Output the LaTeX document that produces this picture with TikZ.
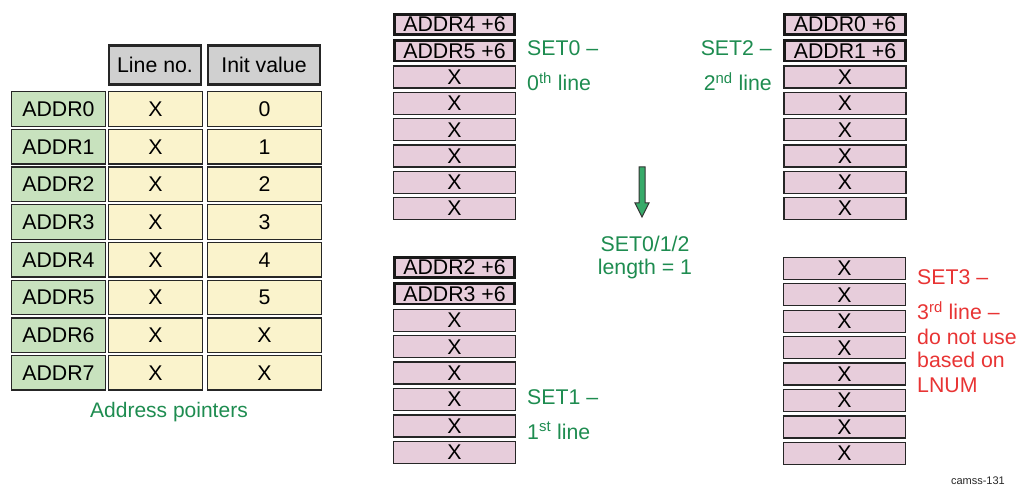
\documentclass[tikz,border=0pt]{standalone}
\usepackage{fontspec}
\setmainfont{Liberation Sans}
\usepackage{tikz}
\usepackage{xcolor}
\definecolor{addrgreen}{RGB}{200,226,190}
\definecolor{cellyellow}{RGB}{250,243,204}
\definecolor{headgrey}{RGB}{208,208,208}
\definecolor{linepink}{RGB}{231,205,219}
\definecolor{labelgreen}{RGB}{30,140,80}
\definecolor{arrowgreen}{RGB}{55,170,105}
\definecolor{warnred}{RGB}{232,52,52}
\newcommand{\bigtxt}{\fontsize{21.3}{24}\selectfont}

\begin{document}
\begin{tikzpicture}[x=1pt, y=-1pt, font=\bigtxt,
    tabcell/.style={draw=black!85, line width=1.3pt, minimum height=34.5pt, inner sep=0pt},
    headcell/.style={draw=black!85, line width=2.6pt, fill=headgrey, minimum height=39pt, inner sep=0pt},
    addrcell/.style={tabcell, fill=addrgreen, minimum width=93.5pt},
    linecell/.style={tabcell, fill=cellyellow, minimum width=93.5pt},
    initcell/.style={tabcell, fill=cellyellow, minimum width=114.5pt},
    memline/.style={draw=black!85, line width=1.2pt, fill=linepink, minimum width=122pt, minimum height=22pt, inner sep=0pt},
    memhead/.style={memline, draw=black!90, line width=2.6pt, minimum width=120.5pt, minimum height=20.5pt},
    setlabel/.style={labelgreen, inner sep=0pt, anchor=base west}]
        \useasboundingbox (0,0) rectangle (1018,486);

        % Table header
        \node[headcell, minimum width=92pt] (hline) at (155,65) {Line no.};
        \node[headcell, minimum width=112pt] (hinit) at (264,65) {Init value};
        % Address pointers
        \node[addrcell] (addr0) at (58.5,109) {ADDR0};
        \node[linecell] (line0) at (155.5,109) {X};
        \node[initcell] (init0) at (264.5,109) {0};
        \node[addrcell] (addr1) at (58.5,146.7) {ADDR1};
        \node[linecell] (line1) at (155.5,146.7) {X};
        \node[initcell] (init1) at (264.5,146.7) {1};
        \node[addrcell] (addr2) at (58.5,184.4) {ADDR2};
        \node[linecell] (line2) at (155.5,184.4) {X};
        \node[initcell] (init2) at (264.5,184.4) {2};
        \node[addrcell] (addr3) at (58.5,222.1) {ADDR3};
        \node[linecell] (line3) at (155.5,222.1) {X};
        \node[initcell] (init3) at (264.5,222.1) {3};
        \node[addrcell] (addr4) at (58.5,259.8) {ADDR4};
        \node[linecell] (line4) at (155.5,259.8) {X};
        \node[initcell] (init4) at (264.5,259.8) {4};
        \node[addrcell] (addr5) at (58.5,297.5) {ADDR5};
        \node[linecell] (line5) at (155.5,297.5) {X};
        \node[initcell] (init5) at (264.5,297.5) {5};
        \node[addrcell] (addr6) at (58.5,335.2) {ADDR6};
        \node[linecell] (line6) at (155.5,335.2) {X};
        \node[initcell] (init6) at (264.5,335.2) {X};
        \node[addrcell] (addr7) at (58.5,372.9) {ADDR7};
        \node[linecell] (line7) at (155.5,372.9) {X};
        \node[initcell] (init7) at (264.5,372.9) {X};
        \node[labelgreen, font=\fontsize{21}{24}\selectfont] (ptrlabel) at (169,412) {Address pointers};

        % SET0
        \node[memhead] (set0a) at (454.5,24.5) {ADDR4 +6};
        \node[memhead] (set0b) at (454.5,50.8) {ADDR5 +6};
        \node[memline] (set0c) at (454.5,77.1) {X};
        \node[memline] (set0d) at (454.5,103.4) {X};
        \node[memline] (set0e) at (454.5,129.7) {X};
        \node[memline] (set0f) at (454.5,156) {X};
        \node[memline] (set0g) at (454.5,182.3) {X};
        \node[memline] (set0h) at (454.5,208.6) {X};
        \node[setlabel] (set0name) at (527,56) {SET0 –};
        \node[setlabel] (set0line) at (527,91) {0\textsuperscript{th} line};

        % SET1
        \node[memhead] (set1a) at (454.5,267.5) {ADDR2 +6};
        \node[memhead] (set1b) at (454.5,293.9) {ADDR3 +6};
        \node[memline] (set1c) at (454.5,320.3) {X};
        \node[memline] (set1d) at (454.5,346.7) {X};
        \node[memline] (set1e) at (454.5,373.1) {X};
        \node[memline] (set1f) at (454.5,399.5) {X};
        \node[memline] (set1g) at (454.5,425.9) {X};
        \node[memline] (set1h) at (454.5,452.3) {X};
        \node[setlabel] (set1name) at (527,405) {SET1 –};
        \node[setlabel] (set1line) at (527,439) {1\textsuperscript{st} line};

        % SET2
        \node[memhead] (set2a) at (845,24.5) {ADDR0 +6};
        \node[memhead] (set2b) at (845,50.8) {ADDR1 +6};
        \node[memline] (set2c) at (845,77.1) {X};
        \node[memline] (set2d) at (845,103.4) {X};
        \node[memline] (set2e) at (845,129.7) {X};
        \node[memline] (set2f) at (845,156) {X};
        \node[memline] (set2g) at (845,182.3) {X};
        \node[memline] (set2h) at (845,208.6) {X};
        \node[setlabel, anchor=base east] (set2name) at (772,56) {SET2 –};
        \node[setlabel, anchor=base east] (set2line) at (772,91) {2\textsuperscript{nd} line};

        % SET3
        \node[memline] (set3a) at (844.5,268.5) {X};
        \node[memline] (set3b) at (844.5,294.9) {X};
        \node[memline] (set3c) at (844.5,321.3) {X};
        \node[memline] (set3d) at (844.5,347.7) {X};
        \node[memline] (set3e) at (844.5,374.1) {X};
        \node[memline] (set3f) at (844.5,400.5) {X};
        \node[memline] (set3g) at (844.5,426.9) {X};
        \node[memline] (set3h) at (844.5,453.3) {X};
        \node[setlabel, warnred] (set3name) at (917,285) {SET3 –};
        \node[setlabel, warnred] (set3line) at (917,320) {3\textsuperscript{rd} line –};
        \node[setlabel, warnred] (set3warn) at (917,345) {do not use};
        \node[setlabel, warnred] (set3based) at (917,368) {based on};
        \node[setlabel, warnred] (set3lnum) at (917,392) {LNUM};

        % Down arrow and length note
        \draw[line width=1pt, draw=black!80, fill=arrowgreen]
          (639,167) -- (645,167) -- (645,203) -- (649,203) -- (642,217)
          -- (635,203) -- (639,203) -- cycle;
        \node[labelgreen, inner sep=0pt, anchor=base] (lenset) at (645,252) {SET0/1/2};
        \node[labelgreen, inner sep=0pt, anchor=base] (lenval) at (645,275) {length = 1};

        \node[inner sep=0pt, anchor=base east, black!85, font=\fontsize{11}{13}\selectfont] (figid) at (1005,484) {camss-131};
      \end{tikzpicture}
\end{document}
